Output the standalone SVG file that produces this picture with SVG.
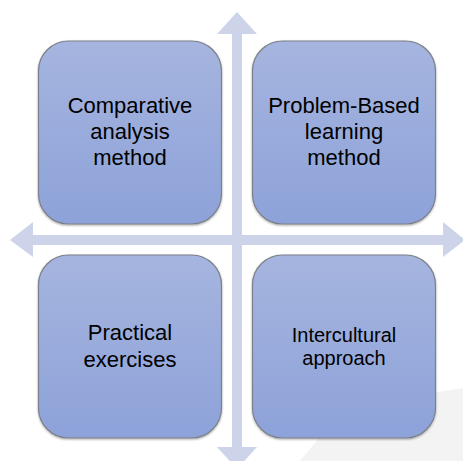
<svg xmlns="http://www.w3.org/2000/svg" width="463" height="461" viewBox="0 0 463 461">
<defs>
<linearGradient id="g" x1="0" y1="0" x2="0" y2="1">
<stop offset="0" stop-color="#a6b5df"/>
<stop offset="1" stop-color="#8da2d9"/>
</linearGradient>
<filter id="sh" x="-10%" y="-10%" width="120%" height="120%">
<feGaussianBlur in="SourceAlpha" stdDeviation="1.2"/>
<feOffset dx="0" dy="1" result="b"/>
<feComponentTransfer><feFuncA type="linear" slope="0.35"/></feComponentTransfer>
<feMerge><feMergeNode/><feMergeNode in="SourceGraphic"/></feMerge>
</filter>
</defs>
<style>
.box{fill:url(#g);stroke:#7c8089;stroke-width:1.2;filter:url(#sh)}
.t{font-family:"Liberation Sans",Arial,sans-serif;font-size:22px;fill:#000;text-anchor:middle}
.s{font-size:20px}
.ar{fill:#cdd4ea}
</style>
<rect width="463" height="461" fill="#fff"/>
<path d="M300 461 L330 425 Q380 400 463 388 L463 461 Z" fill="#f3f3f3"/>
<g id="connectors">
<polygon class="ar" points="237,12 257,34 242,34 242,447 257,447 237,469 217,447 232,447 232,34 217,34"/>
<polygon class="ar" points="10,240 33,222 33,235 443,235 443,222 465,240 443,257 443,245 33,245 33,257"/>
</g>
<g id="n1">
<rect class="box" x="38.5" y="41" width="183" height="183" rx="30"/>
<text class="t" x="130" y="113">Comparative</text>
<text class="t" x="130" y="139">analysis</text>
<text class="t" x="130" y="165">method</text>
</g>
<g id="n2">
<rect class="box" x="252.5" y="41" width="183" height="183" rx="30"/>
<text class="t" x="344" y="113">Problem-Based</text>
<text class="t" x="344" y="139">learning</text>
<text class="t" x="344" y="165">method</text>
</g>
<g id="n3">
<rect class="box" x="38.5" y="255" width="183" height="183" rx="30"/>
<text class="t" x="130" y="340">Practical</text>
<text class="t" x="130" y="367">exercises</text>
</g>
<g id="n4">
<rect class="box" x="252.5" y="255" width="183" height="183" rx="30"/>
<text class="t s" x="344" y="342">Intercultural</text>
<text class="t s" x="344" y="365">approach</text>
</g>
</svg>
